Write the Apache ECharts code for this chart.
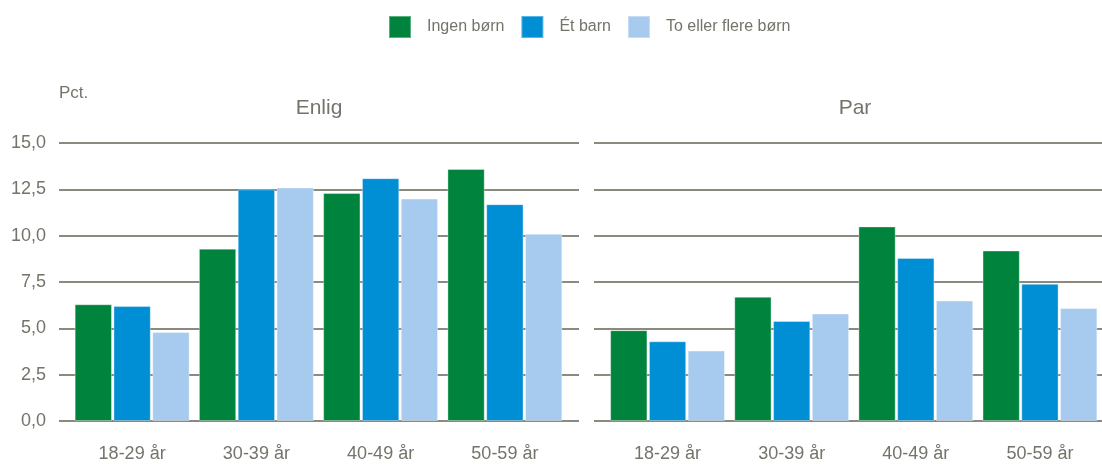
<!DOCTYPE html>
<html>
<head>
<meta charset="utf-8">
<script src="https://cdn.jsdelivr.net/npm/echarts@6/dist/echarts.min.js"></script>
<style>
  html, body { margin: 0; padding: 0; background: #ffffff; }
  #chart { width: 1102px; height: 464px; }
</style>
</head>
<body>
<div id="chart"></div>
<script>
// Age groups on the category axis
const ageGroups = ['18-29 år', '30-39 år', '40-49 år', '50-59 år'];

// Series names (legend)
const seriesNames = ['Ingen børn', 'Ét barn', 'To eller flere børn'];

// Panel titles
const panelTitles = ['Enlig', 'Par'];

// Values, pct. — single adults
const enligIngen = [6.3, 9.3, 12.3, 13.6];
const enligEt = [6.2, 12.5, 13.1, 11.7];
const enligFlere = [4.8, 12.6, 12.0, 10.1];

// Values, pct. — couples
const parIngen = [4.9, 6.7, 10.5, 9.2];
const parEt = [4.3, 5.4, 8.8, 7.4];
const parFlere = [3.8, 5.8, 6.5, 6.1];

// Value axis ticks
const yMin = 0, yMax = 15, yStep = 2.5;

const colors = ['#00843d', '#008fd5', '#a7cbee'];
const textColor = '#74746a';
const gridColor = '#8a8a7e';
const fontFamily = 'Liberation Sans, Arial, sans-serif';

const chart = echarts.init(document.getElementById('chart'), null, { renderer: 'canvas' });

const plotTop = 143, plotBottom = 43;

// Grids 0/2 carry the wide horizontal grid lines, grids 1/3 carry the bars
const grids = [
  { left: 59, width: 520, top: plotTop, bottom: plotBottom },
  { left: 70, width: 497, top: plotTop, bottom: plotBottom },
  { left: 594, width: 522, top: plotTop, bottom: plotBottom },
  { left: 605.5, width: 497, top: plotTop, bottom: plotBottom }
];

function valueAxis(gridIndex, showLines, showLabels) {
  return {
    type: 'value', gridIndex, min: yMin, max: yMax, interval: yStep,
    axisLine: { show: false }, axisTick: { show: false },
    axisLabel: {
      show: showLabels, color: textColor, fontSize: 18, fontFamily, margin: 13,
      formatter: v => v.toFixed(1).replace('.', ',')
    },
    splitLine: { show: showLines, lineStyle: { color: gridColor, width: 2 } }
  };
}

function categoryAxis(gridIndex) {
  return {
    type: 'category', gridIndex, data: ageGroups,
    axisLine: { show: false }, axisTick: { show: false },
    axisLabel: { color: textColor, fontSize: 18, fontFamily, margin: 24 }
  };
}

const xAxes = [
  { type: 'value', gridIndex: 0, show: false, min: 0, max: 1 },
  categoryAxis(1),
  { type: 'value', gridIndex: 2, show: false, min: 0, max: 1 },
  categoryAxis(3)
];

const yAxes = [
  valueAxis(0, true, true),
  valueAxis(1, false, false),
  valueAxis(2, true, false),
  valueAxis(3, false, false)
];

function barSeries(name, data, idx, axisIdx) {
  return {
    name, type: 'bar', data,
    xAxisIndex: axisIdx, yAxisIndex: axisIdx,
    barCategoryGap: '7.5%', barGap: '4%',
    itemStyle: { color: colors[idx], borderColor: 'rgba(255,255,255,0.35)', borderWidth: 1 },
    emphasis: { disabled: true },
    animation: false
  };
}

const enligData = [enligIngen, enligEt, enligFlere];
const parData = [parIngen, parEt, parFlere];

const series = [];
seriesNames.forEach((n, i) => series.push(barSeries(n, enligData[i], i, 1)));
seriesNames.forEach((n, i) => series.push(barSeries(n, parData[i], i, 3)));

const titleStyle = { color: textColor, fontSize: 21, fontWeight: 'normal', fontFamily };

chart.setOption({
  animation: false,
  title: [
    { text: panelTitles[0], left: 319, top: 98, padding: 0, textAlign: 'center', textStyle: titleStyle },
    { text: panelTitles[1], left: 855, top: 98, padding: 0, textAlign: 'center', textStyle: titleStyle },
    { text: 'Pct.', left: 59, top: 85, padding: 0,
      textStyle: { color: textColor, fontSize: 17, fontWeight: 'normal', fontFamily } }
  ],
  legend: {
    data: seriesNames,
    left: 388, top: 15, padding: 0,
    icon: 'rect', itemWidth: 22, itemHeight: 22, itemGap: 16,
    selectedMode: false,
    textStyle: { color: textColor, fontSize: 16, fontFamily, padding: [0, 0, 0, 11] }
  },
  grid: grids,
  xAxis: xAxes,
  yAxis: yAxes,
  series
});
</script>
</body>
</html>
